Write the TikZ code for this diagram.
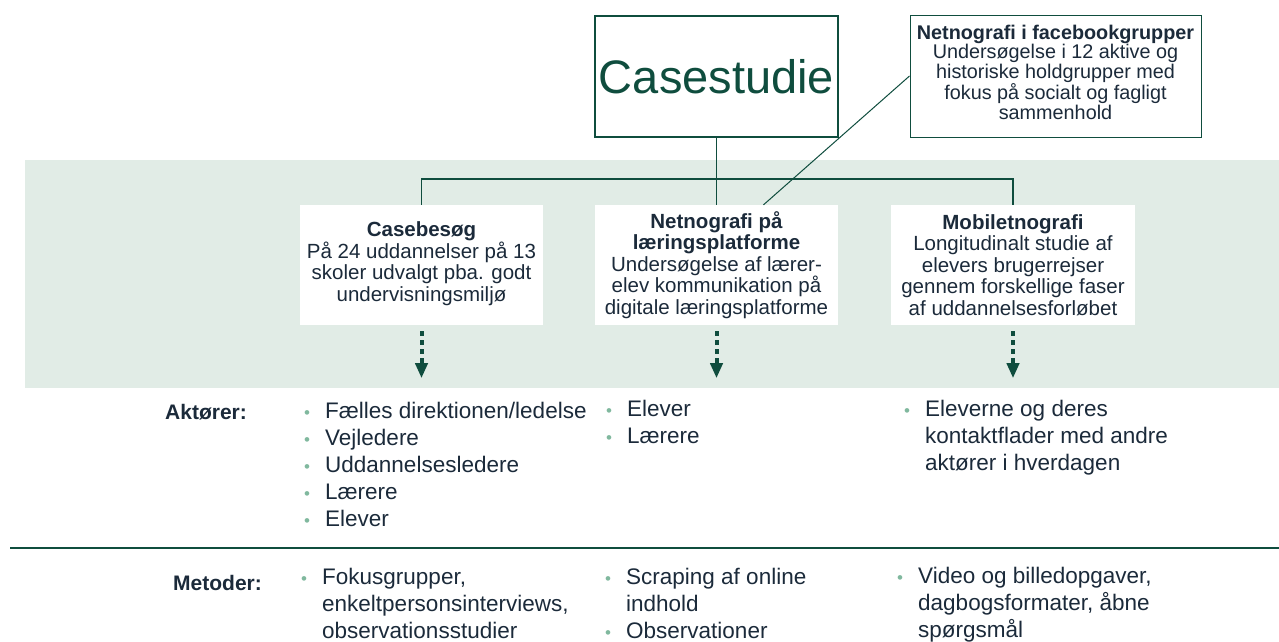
\documentclass[tikz,border=0pt]{standalone}
\usepackage{fontspec}
\setmainfont{Liberation Sans}
\usepackage{xcolor}
\usetikzlibrary{arrows.meta,positioning}
\definecolor{moerkgroen}{HTML}{0F4D3E}
\definecolor{baand}{HTML}{E1ECE6}
\definecolor{tekst}{HTML}{1B2A3A}
\definecolor{punkt}{HTML}{80B89E}
\tikzset{
  boks/.style={fill=white, minimum width=243pt, minimum height=120pt, align=center,
    text=tekst, font=\fontsize{20.5}{21.5}\selectfont, inner sep=0pt},
  liste/.style={anchor=north west, align=left, text=tekst,
    font=\fontsize{22.5}{27}\selectfont, inner sep=0pt},
  overskrift/.style={anchor=west, text=tekst, font=\bfseries\fontsize{21}{25}\selectfont, inner sep=0pt},
  forbind/.style={draw=moerkgroen, line width=1.3pt},
  pil/.style={draw=moerkgroen, line width=4pt, dash pattern=on 5pt off 4pt,
    -{Triangle[length=15pt,width=12pt]}},
}
\newcommand{\pkt}{\makebox[21pt][l]{\raisebox{0.5pt}{\textcolor{punkt}{\fontsize{17}{17}\selectfont\textbullet}}}}
\newcommand{\ind}{\hspace*{21pt}}

\begin{document}
\begin{tikzpicture}[x=1pt,y=-1pt]
    \useasboundingbox (0,0) rectangle (1279,641);
    \fill[baand] (25,160) rectangle (1279,388);

    \node[draw=moerkgroen, line width=1.3pt, fill=white, minimum width=243pt, minimum height=121pt,
      text=moerkgroen, font=\fontsize{47}{50}\selectfont, inner sep=0pt] (case) at (716.5,76.5) {Casestudie};
    \node[draw=moerkgroen, line width=1pt, fill=white, minimum width=291pt, minimum height=122pt,
      align=center, text=tekst, font=\fontsize{19.8}{19.8}\selectfont, inner sep=0pt] (fb) at (1055.5,76)
      {\textbf{Netnografi i facebookgrupper}\\Undersøgelse i 12 aktive og\\historiske holdgrupper med\\fokus på socialt og fagligt\\sammenhold\\[-12pt]};

    \node[boks] (casebes) at (421.5,265) {\textbf{Casebesøg}\\På 24 uddannelser på 13\\skoler udvalgt pba. godt\\undervisningsmiljø\\[-15pt]};
    \node[boks] (netno) at (716.5,265) {\textbf{Netnografi på}\\\textbf{læringsplatforme}\\Undersøgelse af lærer-\\elev kommunikation på\\digitale læringsplatforme};
    \node[boks, minimum width=244pt] (mobil) at (1013,265) {\textbf{Mobiletnografi}\\Longitudinalt studie af\\elevers brugerrejser\\gennem forskellige faser\\af uddannelsesforløbet};

    % forbindelser
    \coordinate (gren) at (716.5,179);
    \draw[forbind] (case.south) -- (netno.north);
    \draw[forbind] (casebes.north) |- (gren) -| (mobil.north);
    \draw[forbind, line width=1pt] (fb.west) -- ([xshift=47pt]netno.north);

    \foreach \b in {casebes,netno,mobil}
      \draw[pil] ([yshift=-6pt]\b.south) -- ([yshift=-53pt]\b.south);

    \node[overskrift] (akt) at (165,412) {Aktører:};
    \node[liste] (akt1) at (304,402) {\pkt Fælles direktionen/ledelse\\\pkt Vejledere\\\pkt Uddannelsesledere\\\pkt Lærere\\\pkt Elever};
    \node[liste] (akt2) at (606,400) {\pkt Elever\\\pkt Lærere};
    \node[liste] (akt3) at (904,400) {\pkt Eleverne og deres\\\ind kontaktflader med andre\\\ind aktører i hverdagen};

    \draw[forbind] (10,548) -- (1279,548);

    \node[overskrift] (met) at (173,583) {Metoder:};
    \node[liste] (met1) at (301,568) {\pkt Fokusgrupper,\\\ind enkeltpersonsinterviews,\\\ind observationsstudier};
    \node[liste] (met2) at (605,568) {\pkt Scraping af online\\\ind indhold\\\pkt Observationer};
    \node[liste] (met3) at (897,567) {\pkt Video og billedopgaver,\\\ind dagbogsformater, åbne\\\ind spørgsmål};
\end{tikzpicture}
\end{document}
